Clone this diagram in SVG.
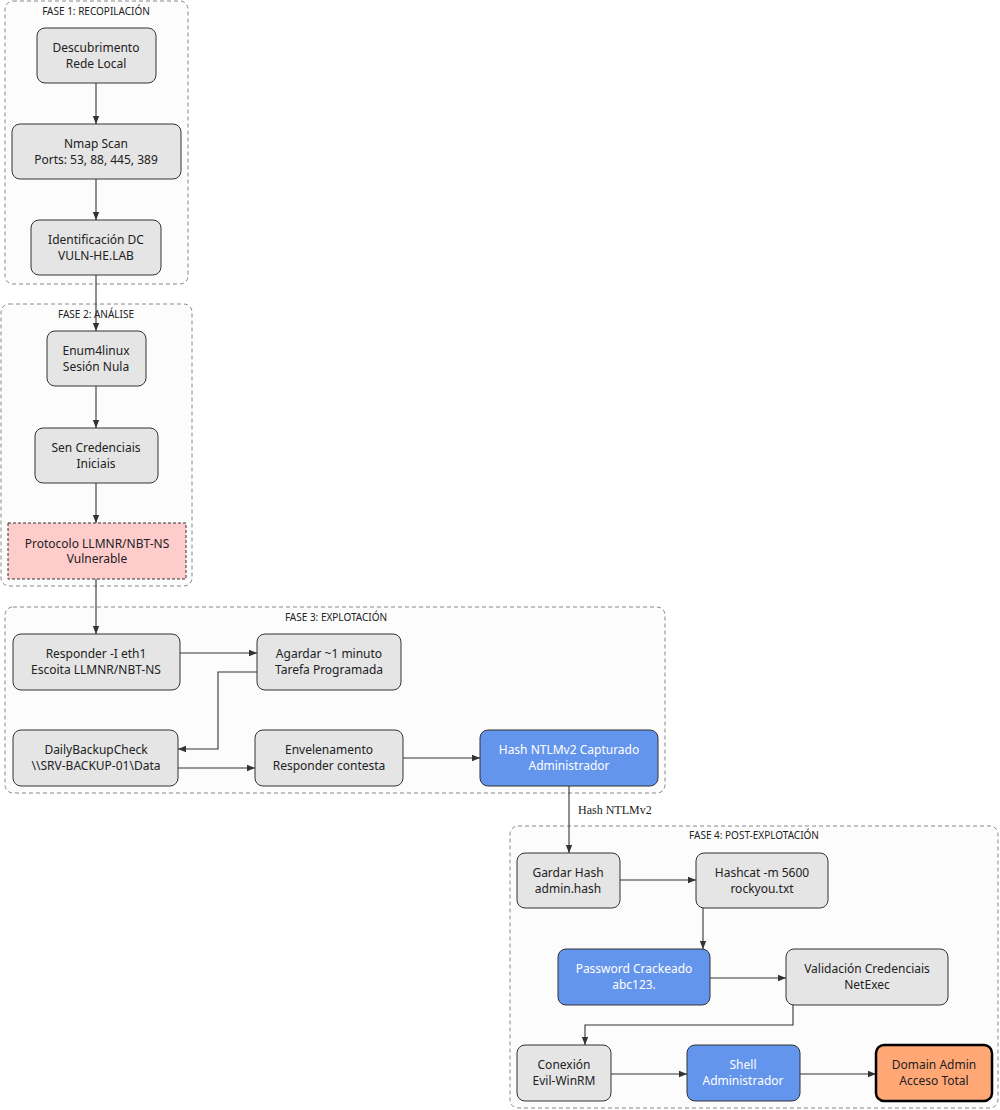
<svg xmlns="http://www.w3.org/2000/svg" width="1000" height="1110" viewBox="0 0 1000 1110">
<defs>
<marker id="ah" viewBox="0 0 10 10" refX="10" refY="5" markerWidth="8" markerHeight="8" markerUnits="userSpaceOnUse" orient="auto"><path d="M0,1 L10,5 L0,9 z" fill="#333"/></marker>
<style>
.cl{fill:#fcfcfc;stroke:#888;stroke-dasharray:4 3;stroke-width:1}
.ct{font-family:"Noto Sans","Open Sans",sans-serif;font-size:10px;fill:#222;text-anchor:middle}
.n{fill:#e5e5e5;stroke:#333;stroke-width:1}
.b{fill:#6495ed;stroke:#333;stroke-width:1}
.t{font-family:"Noto Sans","Open Sans",sans-serif;font-size:12px;fill:#222;text-anchor:middle}
.w{fill:#fff}
.e{fill:none;stroke:#333;stroke-width:1.1;marker-end:url(#ah)}
</style>
</defs>
<rect width="1000" height="1110" fill="#fff"/>
<g id="clusters">
<rect class="cl" x="5" y="1" width="183" height="283" rx="8"/><text class="ct" x="96" y="15">FASE 1: RECOPILACIÓN</text>
<rect class="cl" x="1" y="304" width="191" height="282" rx="8"/><text class="ct" x="96" y="318">FASE 2: ANÁLISE</text>
<rect class="cl" x="5" y="607" width="660" height="186" rx="8"/><text class="ct" x="336" y="621">FASE 3: EXPLOTACIÓN</text>
<rect class="cl" x="510" y="826" width="488" height="282" rx="8"/><text class="ct" x="754" y="839">FASE 4: POST-EXPLOTACIÓN</text>
</g>
<g id="edges">
<path class="e" d="M96,83 V124"/>
<path class="e" d="M96,179 V220"/>
<path class="e" d="M96,275 V331"/>
<path class="e" d="M96,386 V428"/>
<path class="e" d="M96,483 V523"/>
<path class="e" d="M96,579 V634"/>
<path class="e" d="M180,653 H257"/>
<path class="e" d="M257,672 H218 V749 H178"/>
<path class="e" d="M178,768 H255"/>
<path class="e" d="M403,758 H480"/>
<path class="e" d="M569,786 V853"/>
<text x="578" y="814" font-family="Liberation Serif,serif" font-size="12" fill="#222">Hash NTLMv2</text>
<path class="e" d="M620,880 H696"/>
<path class="e" d="M703,908 V949"/>
<path class="e" d="M710,978 H786"/>
<path class="e" d="M793,1005 V1025 H585 V1045"/>
<path class="e" d="M611,1074 H687"/>
<path class="e" d="M800,1074 H876"/>
</g>
<g id="n1"><rect class="n" x="37" y="28" width="119" height="55" rx="8"/><text class="t" x="96" y="52">Descubrimento</text><text class="t" x="96" y="68">Rede Local</text></g>
<g id="n2"><rect class="n" x="12" y="124" width="169" height="55" rx="8"/><text class="t" x="96" y="148">Nmap Scan</text><text class="t" x="96" y="164">Ports: 53, 88, 445, 389</text></g>
<g id="n3"><rect class="n" x="31" y="220" width="130" height="55" rx="8"/><text class="t" x="96" y="244">Identificación DC</text><text class="t" x="96" y="260">VULN-HE.LAB</text></g>
<g id="n4"><rect class="n" x="47" y="331" width="99" height="55" rx="8"/><text class="t" x="96" y="355">Enum4linux</text><text class="t" x="96" y="371">Sesión Nula</text></g>
<g id="n5"><rect class="n" x="35" y="428" width="123" height="55" rx="8"/><text class="t" x="96" y="452">Sen Credenciais</text><text class="t" x="96" y="468">Iniciais</text></g>
<g id="n6"><rect x="8" y="523" width="178" height="56" fill="#ffcccc" stroke="#333" stroke-dasharray="3 2"/><text class="t" x="97" y="548">Protocolo LLMNR/NBT-NS</text><text class="t" x="97" y="563">Vulnerable</text></g>
<g id="n7"><rect class="n" x="13" y="634" width="167" height="56" rx="8"/><text class="t" x="96" y="658">Responder -I eth1</text><text class="t" x="96" y="674">Escoita LLMNR/NBT-NS</text></g>
<g id="n8"><rect class="n" x="257" y="634" width="144" height="56" rx="8"/><text class="t" x="329" y="658">Agardar ~1 minuto</text><text class="t" x="329" y="674">Tarefa Programada</text></g>
<g id="n9"><rect class="n" x="13" y="730" width="165" height="56" rx="8"/><text class="t" x="96" y="754">DailyBackupCheck</text><text class="t" x="96" y="770">\\SRV-BACKUP-01\Data</text></g>
<g id="n10"><rect class="n" x="255" y="730" width="148" height="56" rx="8"/><text class="t" x="329" y="754">Envelenamento</text><text class="t" x="329" y="770">Responder contesta</text></g>
<g id="n11"><rect class="b" x="480" y="730" width="178" height="56" rx="8"/><text class="t w" x="569" y="754">Hash NTLMv2 Capturado</text><text class="t w" x="569" y="770">Administrador</text></g>
<g id="n12"><rect class="n" x="517" y="853" width="103" height="55" rx="8"/><text class="t" x="568" y="877">Gardar Hash</text><text class="t" x="568" y="893">admin.hash</text></g>
<g id="n13"><rect class="n" x="696" y="853" width="132" height="55" rx="8"/><text class="t" x="762" y="877">Hashcat -m 5600</text><text class="t" x="762" y="893">rockyou.txt</text></g>
<g id="n14"><rect class="b" x="558" y="949" width="152" height="56" rx="8"/><text class="t w" x="634" y="973">Password Crackeado</text><text class="t w" x="634" y="989">abc123.</text></g>
<g id="n15"><rect class="n" x="786" y="949" width="162" height="56" rx="8"/><text class="t" x="867" y="973">Validación Credenciais</text><text class="t" x="867" y="989">NetExec</text></g>
<g id="n16"><rect class="n" x="517" y="1045" width="94" height="56" rx="8"/><text class="t" x="564" y="1069">Conexión</text><text class="t" x="564" y="1085">Evil-WinRM</text></g>
<g id="n17"><rect class="b" x="687" y="1045" width="113" height="56" rx="8"/><text class="t w" x="743" y="1069">Shell</text><text class="t w" x="743" y="1085">Administrador</text></g>
<g id="n18"><rect x="876" y="1045" width="116" height="56" rx="8" fill="#ffa876" stroke="#000" stroke-width="2.5"/><text class="t" x="934" y="1069">Domain Admin</text><text class="t" x="934" y="1085">Acceso Total</text></g>
</svg>
